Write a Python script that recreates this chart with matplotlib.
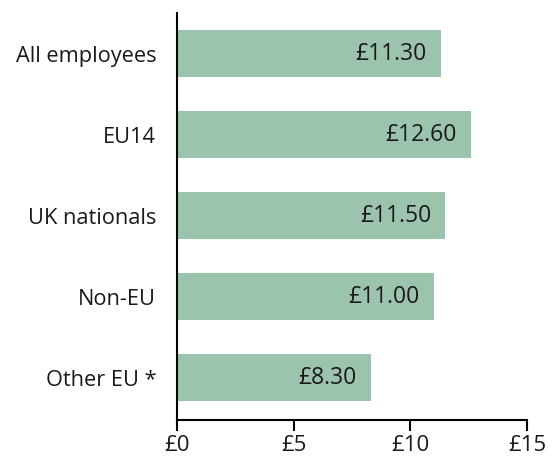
import matplotlib
matplotlib.use("Agg")
import matplotlib.pyplot as plt

categories = ["All employees", "EU14", "UK nationals", "Non-EU", "Other EU *"]
values = [11.30, 12.60, 11.50, 11.00, 8.30]
value_labels = ["£11.30", "£12.60", "£11.50", "£11.00", "£8.30"]
xticks = [0, 5, 10, 15]
xtick_labels = ["£0", "£5", "£10", "£15"]

plt.rcParams['font.family'] = ['Open Sans', 'DejaVu Sans']

fig = plt.figure(figsize=(5.57, 4.57), dpi=100)
ax = fig.add_axes([0.3178, 0.081, 0.6285, 0.8906])

# bottom to top order
pos = list(range(len(categories)))[::-1]
ax.barh(pos, values, height=0.58, color="#9cc3ae")

for p, v, lab in zip(pos, values, value_labels):
    ax.text(v - 0.6, p, lab, ha="right", va="center", fontsize=16.5, color="#1a1a1a")

ax.set_yticks(pos)
ax.set_yticklabels(categories, fontsize=15.7, color="#1a1a1a")
ax.tick_params(axis="y", length=0, pad=15)
ax.set_xticks(xticks)
ax.set_xticklabels(xtick_labels, fontsize=16, color="#1a1a1a")
ax.tick_params(axis="x", length=8, width=1.5, pad=3)

ax.set_xlim(0, 15)
ax.set_ylim(-0.52, 4.5)
for s in ["top", "right"]:
    ax.spines[s].set_visible(False)
ax.spines["left"].set_linewidth(1.5)
ax.spines["bottom"].set_linewidth(1.5)

fig.savefig("out.png", dpi=100)
